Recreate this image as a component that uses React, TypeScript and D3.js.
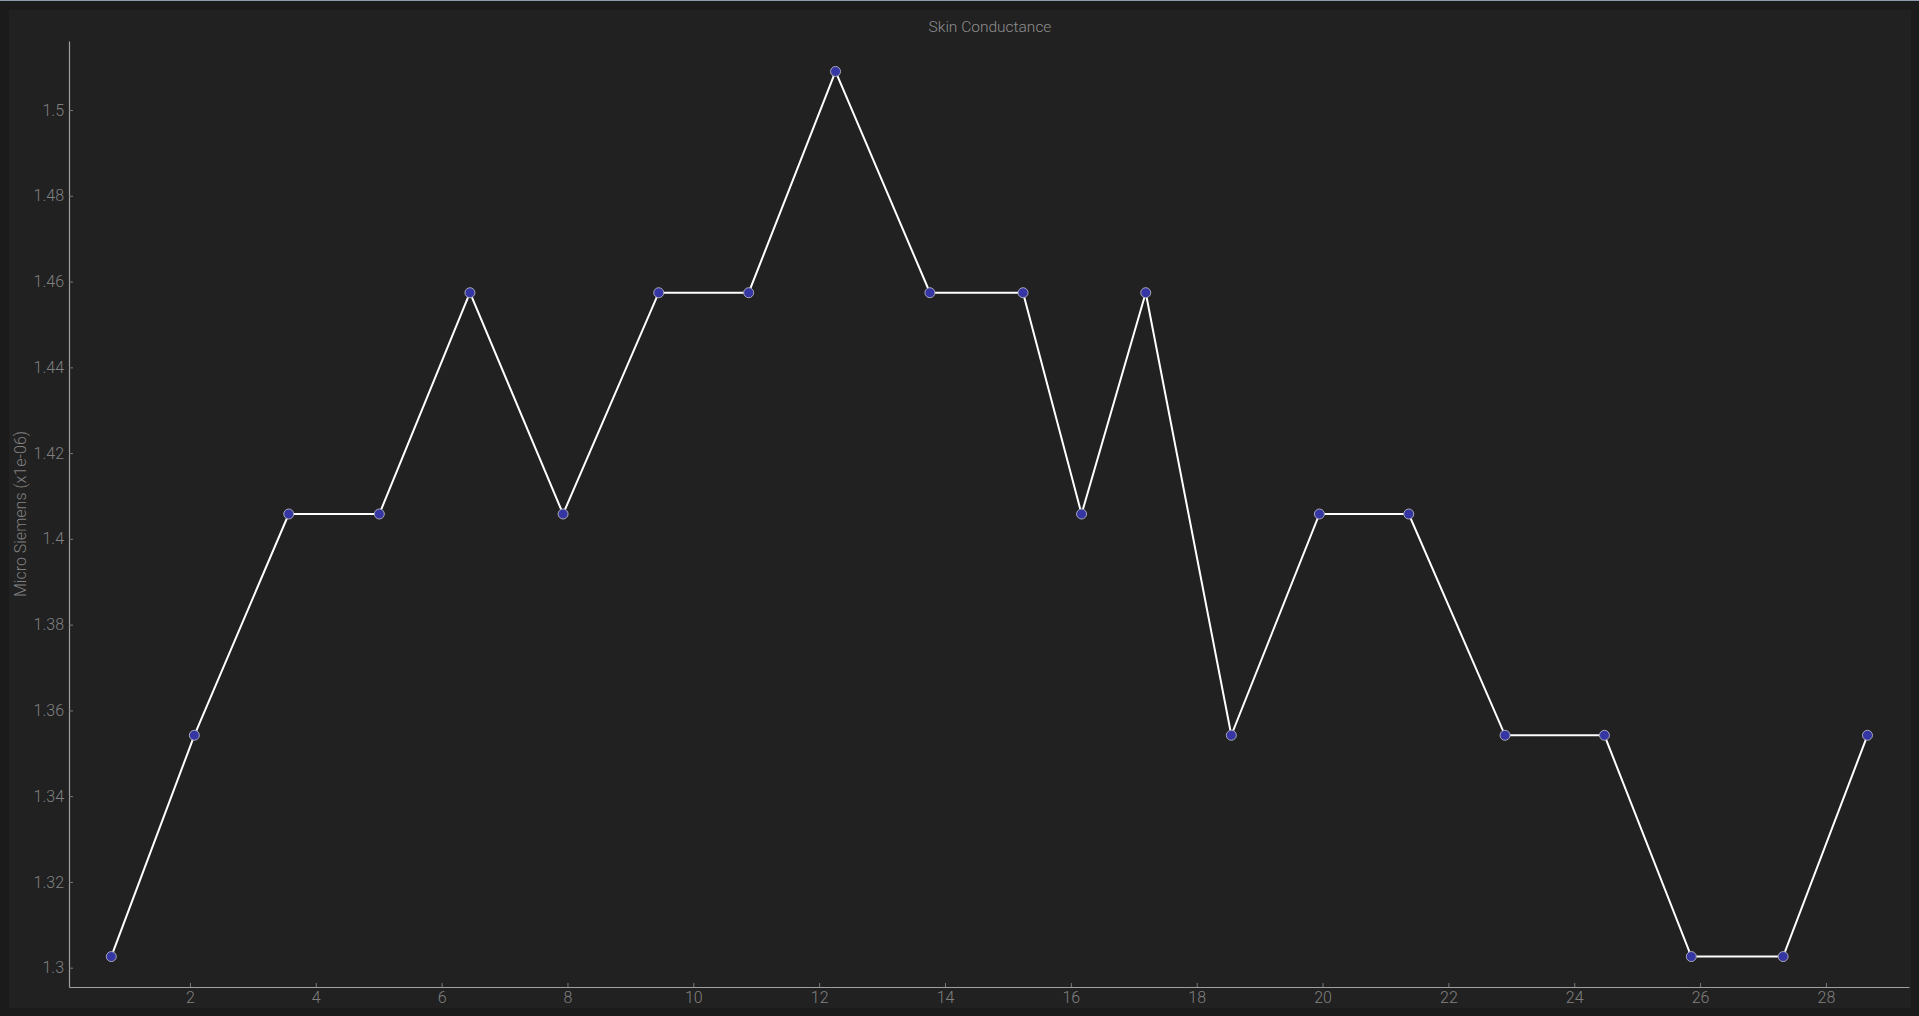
import React, { useEffect, useRef } from 'react'
import * as d3 from 'd3'

// sample times (s) and skin conductance readings (micro siemens, x1e-06)
const times = [0.75, 2.07, 3.57, 5.01, 6.45, 7.93, 9.45, 10.88, 12.26, 13.76, 15.24, 16.17, 17.19, 18.55, 19.95, 21.37, 22.9, 24.48, 25.86, 27.32, 28.66]
const conductance = [1.3026, 1.3542, 1.4058, 1.4058, 1.4574, 1.4058, 1.4574, 1.4574, 1.509, 1.4574, 1.4574, 1.4058, 1.4574, 1.3542, 1.4058, 1.4058, 1.3542, 1.3542, 1.3026, 1.3026, 1.3542]
const xTicks = [2, 4, 6, 8, 10, 12, 14, 16, 18, 20, 22, 24, 26, 28]
const yTicks = [1.3, 1.32, 1.34, 1.36, 1.38, 1.4, 1.42, 1.44, 1.46, 1.48, 1.5]

const W = 1919
const H = 1016
const FONT = 'Roboto, "Noto Sans", sans-serif'

export default function App() {
  const ref = useRef<SVGSVGElement>(null)

  useEffect(() => {
    const svg = d3.select(ref.current)
    svg.selectAll('*').remove()

    // helper variables for the plot area
    const left = 69
    const right = 1909
    const top = 41
    const bottom = 987

    // outer frame + panel
    svg.append('rect').attr('width', W).attr('height', H).attr('fill', '#1b1b1b')
    svg.append('rect').attr('width', W).attr('height', 1).attr('fill', '#8c9cac')
    svg.append('rect').attr('x', 9).attr('y', 10).attr('width', 1902).attr('height', 998).attr('fill', '#212121')

    const x = d3.scaleLinear().domain([0.078, 29.32]).range([left, right])
    const y = d3.scaleLinear().domain([1.2955, 1.5161]).range([bottom, top])

    const yAxis = svg
      .append('g')
      .attr('transform', `translate(${left},0)`)
      .call(
        d3
          .axisLeft(y)
          .tickValues(yTicks)
          .tickSizeInner(-4)
          .tickSizeOuter(0)
          .tickPadding(5)
          .tickFormat(d => String(+(+d).toFixed(2)))
      )

    const xAxis = svg
      .append('g')
      .attr('transform', `translate(0,${bottom})`)
      .call(
        d3
          .axisBottom(x)
          .tickValues(xTicks)
          .tickSizeInner(-4)
          .tickSizeOuter(0)
          .tickPadding(5)
          .tickFormat(d => String(d))
      )

    for (const ax of [xAxis, yAxis]) {
      ax.select('.domain').attr('stroke', '#a0a0a0').attr('stroke-width', 1.2)
      ax.selectAll('.tick line').attr('stroke', '#7a7a7a')
      ax.selectAll('.tick text')
        .attr('fill', '#808080')
        .attr('font-family', FONT)
        .attr('font-weight', 300)
        .attr('font-size', 16)
    }

    // title
    svg
      .append('text')
      .attr('x', 990)
      .attr('y', 32)
      .attr('text-anchor', 'middle')
      .attr('fill', '#8e8e8e')
      .attr('font-family', FONT)
      .attr('font-weight', 300)
      .attr('font-size', 15.5)
      .text('Skin Conductance')

    // y axis label
    svg
      .append('text')
      .attr('transform', `translate(26,514) rotate(-90)`)
      .attr('text-anchor', 'middle')
      .attr('fill', '#808080')
      .attr('font-family', FONT)
      .attr('font-weight', 300)
      .attr('font-size', 16)
      .text('Micro Siemens (x1e-06)')

    const data = times.map((t, i) => ({ t, v: conductance[i] }))

    const line = d3
      .line<{ t: number; v: number }>()
      .x(d => x(d.t))
      .y(d => y(d.v))

    svg
      .append('path')
      .datum(data)
      .attr('d', line)
      .attr('fill', 'none')
      .attr('stroke', '#ffffff')
      .attr('stroke-width', 2)

    svg
      .append('g')
      .selectAll('circle')
      .data(data)
      .enter()
      .append('circle')
      .attr('cx', d => x(d.t))
      .attr('cy', d => y(d.v))
      .attr('r', 5)
      .attr('fill', '#3535a3')
      .attr('stroke', '#a8a8b8')
      .attr('stroke-width', 1)
  }, [])

  return (
    <svg
      ref={ref}
      width={W}
      height={H}
      style={{ position: 'fixed', left: 0, top: 0, display: 'block' }}
    />
  )
}
